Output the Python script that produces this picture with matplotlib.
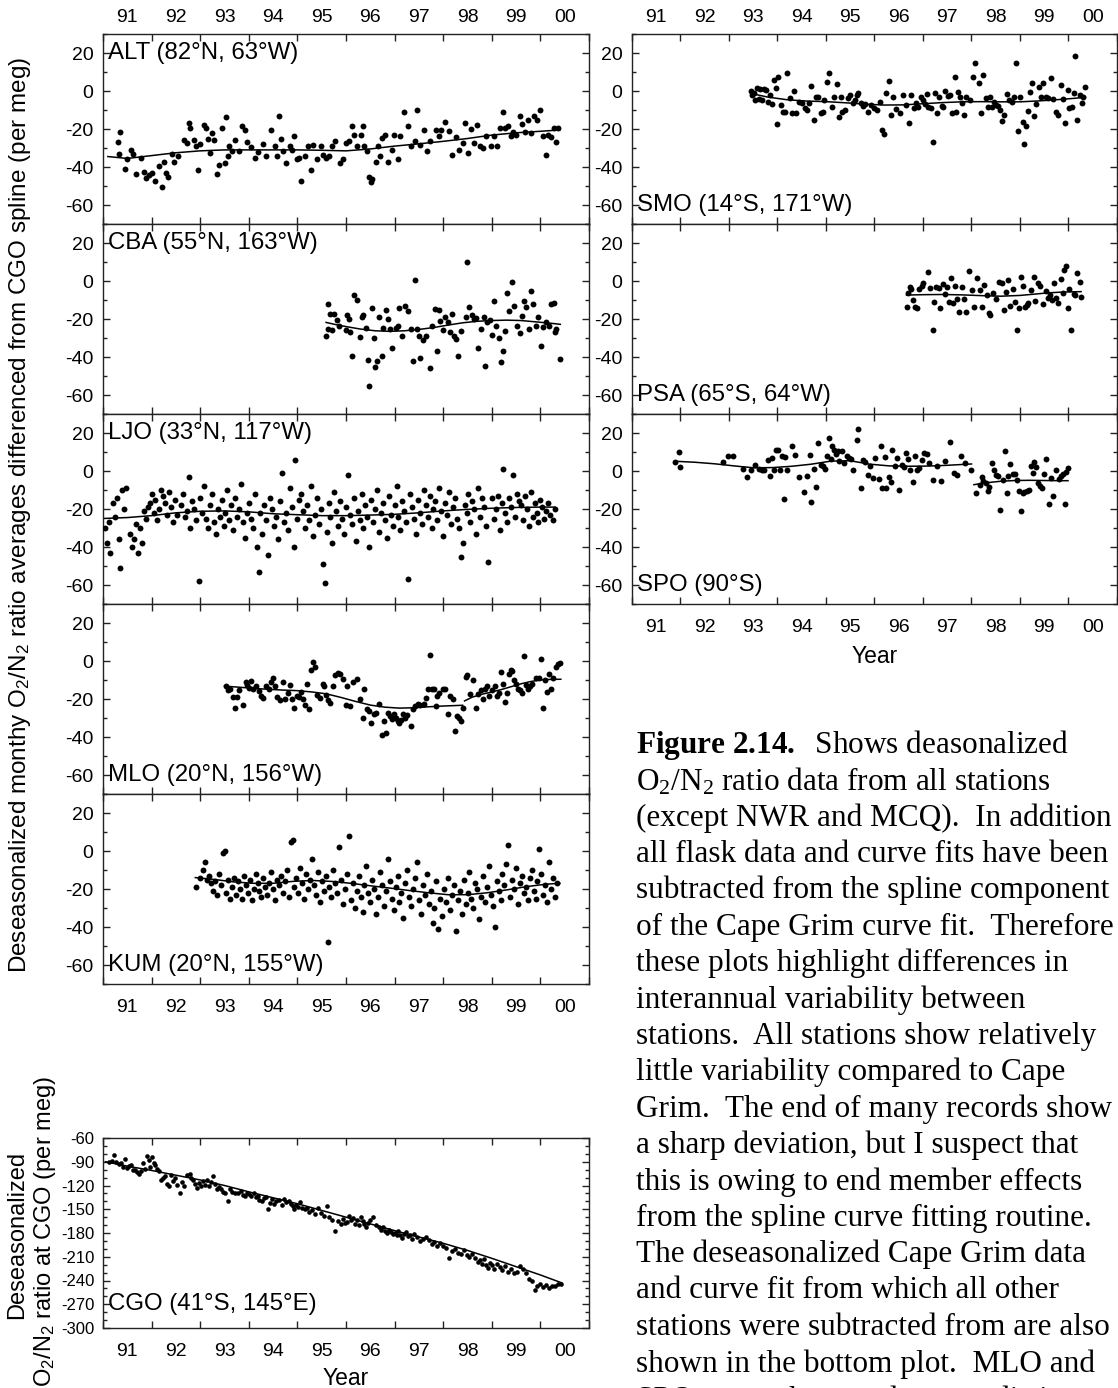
import matplotlib
matplotlib.use("Agg")
import matplotlib.pyplot as plt
from matplotlib.ticker import FixedLocator, FixedFormatter, NullFormatter, MultipleLocator

plt.rcParams['font.family'] = ['Liberation Sans', 'DejaVu Sans']
plt.rcParams['axes.unicode_minus'] = False
plt.rcParams['mathtext.fontset'] = 'custom'
plt.rcParams['mathtext.rm'] = 'Liberation Serif'
plt.rcParams['mathtext.bf'] = 'Liberation Serif:bold'
plt.rcParams['mathtext.it'] = 'Liberation Serif:italic'
plt.rcParams['mathtext.sf'] = 'Liberation Sans'

# ---- data (decimal year, per meg) ----
year_labels = ["91", "92", "93", "94", "95", "96", "97", "98", "99", "00"]

alt_x = [1991.30, 1991.35, 1991.32, 1991.45, 1991.49, 1991.58, 1991.62, 1991.68, 1991.79, 1991.85, 1991.88, 1991.94, 1992.00, 1992.06, 1992.15, 1992.21, 1992.25, 1992.29, 1992.33, 1992.42, 1992.46, 1992.55, 1992.67, 1992.73, 1992.77, 1992.79, 1992.88, 1992.91, 1992.95, 1992.99, 1993.07, 1993.11, 1993.17, 1993.21, 1993.25, 1993.29, 1993.34, 1993.38, 1993.45, 1993.50, 1993.54, 1993.58, 1993.60, 1993.66, 1993.72, 1993.79, 1993.86, 1993.92, 1993.97, 1994.05, 1994.12, 1994.19, 1994.29, 1994.35, 1994.46, 1994.53, 1994.58, 1994.62, 1994.67, 1994.71, 1994.76, 1994.84, 1994.88, 1994.94, 1994.99, 1995.04, 1995.08, 1995.16, 1995.21, 1995.28, 1995.33, 1995.40, 1995.48, 1995.53, 1995.59, 1995.65, 1995.71, 1995.78, 1995.87, 1995.93, 1996.01, 1996.07, 1996.12, 1996.16, 1996.23, 1996.30, 1996.34, 1996.38, 1996.44, 1996.48, 1996.52, 1996.54, 1996.62, 1996.66, 1996.70, 1996.74, 1996.80, 1996.86, 1996.94, 1996.98, 1997.06, 1997.12, 1997.20, 1997.28, 1997.33, 1997.41, 1997.47, 1997.53, 1997.61, 1997.67, 1997.73, 1997.85, 1997.91, 1997.96, 1998.04, 1998.12, 1998.18, 1998.26, 1998.32, 1998.40, 1998.44, 1998.52, 1998.58, 1998.64, 1998.70, 1998.75, 1998.81, 1998.89, 1998.99, 1999.05, 1999.11, 1999.17, 1999.23, 1999.27, 1999.33, 1999.39, 1999.44, 1999.50, 1999.57, 1999.62, 1999.68, 1999.74, 1999.80, 1999.86, 1999.94, 1999.99, 2000.06, 2000.12, 2000.16, 2000.21, 2000.28, 2000.32, 2000.36]
alt_y = [-27, -21.6, -33, -41, -36, -31, -33, -43.5, -35, -42.6, -45.8, -44, -43, -47.5, -39.6, -50.7, -37.5, -43, -45, -33, -37.5, -34, -25.6, -27.4, -16.8, -19.5, -25.6, -29, -41.8, -28, -17.7, -19.5, -25, -32.6, -22, -25.6, -43.5, -39, -19.5, -38, -13.9, -34.4, -29, -31.8, -26, -31.8, -18.2, -20.4, -27, -29.5, -35, -32.3, -27.7, -34, -20.4, -29, -34.4, -13, -25, -31.8, -38, -29.1, -31, -23.9, -36, -35, -47.5, -34.4, -29, -41.4, -28.2, -36, -29, -33.5, -35.3, -34.4, -29.1, -26.5, -37.9, -36, -27.4, -26.5, -18.6, -23, -29, -23, -18.2, -29, -31.8, -45, -48, -46.3, -37.5, -29, -34.4, -24.7, -23, -37.5, -31, -23, -36, -23.9, -11.2, -18.2, -29.1, -26.5, -9.8, -28.2, -20.4, -31.8, -26.5, -20.7, -23.9, -20.4, -16.5, -21.2, -33.5, -24.2, -31, -27.4, -16.8, -32.6, -20, -27.4, -18, -29.1, -30, -23.9, -28.8, -23.9, -28.8, -19.5, -11.2, -19.5, -18.6, -23.9, -21.8, -23, -13.3, -17.2, -21.8, -15.4, -22, -13.3, -15, -9.8, -23.9, -33.5, -23, -24.2, -19.5, -27, -19.5]
alt_cx = [1991.1, 1991.5, 1992.0, 1992.5, 1993.0, 1993.5, 1994.0, 1994.5, 1995.0, 1995.5, 1996.0, 1996.5, 1997.0, 1997.5, 1998.0, 1998.5, 1999.0, 1999.5, 2000.0, 2000.4]
alt_cy = [-34.5, -35.5, -34, -32.5, -31.5, -31, -31, -31, -31, -31.2, -31.5, -30.5, -29, -27.8, -26.5, -25, -23.2, -22, -21.2, -20.5]

cba_x = [1995.59, 1995.62, 1995.63, 1995.67, 1995.71, 1995.75, 1995.82, 1995.85, 1995.99, 1996.03, 1996.07, 1996.09, 1996.12, 1996.17, 1996.23, 1996.29, 1996.33, 1996.36, 1996.41, 1996.45, 1996.48, 1996.53, 1996.57, 1996.60, 1996.64, 1996.68, 1996.74, 1996.76, 1996.83, 1996.86, 1996.90, 1996.94, 1997.02, 1997.06, 1997.10, 1997.15, 1997.21, 1997.27, 1997.33, 1997.37, 1997.41, 1997.47, 1997.51, 1997.53, 1997.59, 1997.65, 1997.73, 1997.77, 1997.83, 1997.87, 1997.91, 1997.94, 1998.00, 1998.04, 1998.10, 1998.15, 1998.18, 1998.22, 1998.26, 1998.30, 1998.36, 1998.46, 1998.49, 1998.54, 1998.60, 1998.64, 1998.68, 1998.71, 1998.78, 1998.83, 1998.86, 1998.91, 1998.97, 1999.01, 1999.05, 1999.09, 1999.15, 1999.19, 1999.23, 1999.27, 1999.31, 1999.36, 1999.42, 1999.46, 1999.52, 1999.57, 1999.62, 1999.66, 1999.70, 1999.76, 1999.80, 1999.84, 1999.90, 1999.96, 2000.02, 2000.06, 2000.12, 2000.18, 2000.22, 2000.28, 2000.31, 2000.33, 2000.41]
cba_y = [-28.8, -25.3, -11.9, -17.2, -25.6, -17.2, -20.4, -23.5, -25.6, -17.7, -20, -27, -39.3, -7.2, -9.8, -29.5, -18.9, -17.7, -24.9, -41.4, -55.4, -14.2, -30, -45.3, -42.3, -18.9, -39.3, -24.7, -15.1, -20, -25.3, -35.3, -24.7, -23.9, -14.2, -28.8, -13, -16, -25.3, -42.3, 0.3, -25.3, -29.1, -40.5, -30.9, -29.1, -45.8, -23.9, -14.7, -37, -15.4, -21.2, -26, -18.9, -21.8, -27, -17.2, -28.8, -30.5, -39.3, -26.5, -18.9, 10.2, -13.7, -17.7, -20, -19.5, -35.3, -25.3, -18.9, -44.9, -21.8, -20.4, -28.3, -10.7, -23.5, -30, -42.8, -37, -26.5, -6.3, -16, -0.7, -13, -23.9, -27.4, -18.2, -10.7, -13.7, -25.3, -5.1, -11.9, -23.9, -18.9, -34.4, -24.2, -21.8, -23.9, -11.9, -11.6, -26.7, -25.3, -41]
cba_cx = [1995.59, 1995.8, 1996.0, 1996.3, 1996.6, 1996.9, 1997.2, 1997.5, 1997.8, 1998.1, 1998.4, 1998.7, 1999.0, 1999.3, 1999.6, 1999.9, 2000.2, 2000.41]
cba_cy = [-21.8, -23, -24, -25.3, -26.2, -26.5, -26.2, -25.5, -24.5, -23.2, -22, -21.2, -20.8, -20.6, -20.8, -21.5, -22.2, -22.8]

ljo_x = [1991.05, 1991.08, 1991.12, 1991.15, 1991.20, 1991.24, 1991.28, 1991.32, 1991.36, 1991.40, 1991.44, 1991.48, 1991.55, 1991.60, 1991.63, 1991.68, 1991.72, 1991.76, 1991.80, 1991.85, 1991.88, 1991.92, 1991.96, 1992.00, 1992.04, 1992.08, 1992.12, 1992.16, 1992.20, 1992.24, 1992.28, 1992.32, 1992.36, 1992.40, 1992.44, 1992.48, 1992.52, 1992.60, 1992.64, 1992.68, 1992.72, 1992.76, 1992.80, 1992.84, 1992.88, 1992.92, 1992.97, 1993.00, 1993.04, 1993.08, 1993.12, 1993.16, 1993.20, 1993.24, 1993.28, 1993.32, 1993.36, 1993.40, 1993.44, 1993.48, 1993.52, 1993.56, 1993.60, 1993.64, 1993.68, 1993.72, 1993.76, 1993.80, 1993.84, 1993.88, 1993.92, 1993.96, 1994.00, 1994.04, 1994.08, 1994.12, 1994.16, 1994.20, 1994.24, 1994.28, 1994.32, 1994.36, 1994.40, 1994.44, 1994.48, 1994.52, 1994.56, 1994.60, 1994.64, 1994.68, 1994.72, 1994.76, 1994.80, 1994.84, 1994.88, 1994.92, 1994.96, 1995.00, 1995.04, 1995.08, 1995.12, 1995.16, 1995.20, 1995.24, 1995.28, 1995.32, 1995.36, 1995.40, 1995.44, 1995.48, 1995.52, 1995.56, 1995.60, 1995.64, 1995.68, 1995.72, 1995.76, 1995.80, 1995.84, 1995.88, 1995.92, 1995.96, 1996.00, 1996.04, 1996.08, 1996.12, 1996.16, 1996.20, 1996.24, 1996.28, 1996.32, 1996.36, 1996.40, 1996.44, 1996.48, 1996.52, 1996.56, 1996.60, 1996.64, 1996.68, 1996.72, 1996.76, 1996.80, 1996.84, 1996.88, 1996.92, 1996.96, 1997.00, 1997.04, 1997.08, 1997.12, 1997.16, 1997.20, 1997.24, 1997.28, 1997.32, 1997.36, 1997.40, 1997.44, 1997.48, 1997.52, 1997.56, 1997.60, 1997.64, 1997.68, 1997.72, 1997.76, 1997.80, 1997.84, 1997.88, 1997.92, 1997.96, 1998.00, 1998.04, 1998.08, 1998.12, 1998.16, 1998.20, 1998.24, 1998.28, 1998.32, 1998.36, 1998.40, 1998.44, 1998.48, 1998.52, 1998.56, 1998.60, 1998.64, 1998.68, 1998.72, 1998.76, 1998.80, 1998.84, 1998.88, 1998.92, 1999.00, 1999.04, 1999.08, 1999.12, 1999.16, 1999.20, 1999.24, 1999.28, 1999.32, 1999.36, 1999.40, 1999.44, 1999.48, 1999.52, 1999.56, 1999.60, 1999.64, 1999.68, 1999.72, 1999.76, 1999.80, 1999.84, 1999.88, 1999.92, 1999.96, 2000.00, 2000.04, 2000.08, 2000.12, 2000.16, 2000.20, 2000.25, 2000.30]
ljo_y = [-30, -38, -27, -43, -17, -24, -14, -36, -51, -10, -20, -9, -33, -40, -36, -28, -43, -30, -38, -21, -25, -19, -17, -12, -22, -15, -26, -20, -10, -13, -17, -23, -11, -19, -27, -15, -23, -18, -12, -24, -21, -3, -30, -16, -20, -26, -58, -14, -22, -8, -25, -30, -18, -12, -27, -33, -20, -24, -15, -29, -22, -10, -26, -18, -31, -14, -24, -20, -7, -27, -35, -22, -17, -25, -30, -12, -40, -53, -22, -33, -18, -26, -44, -14, -20, -29, -24, -36, -16, -1, -27, -22, -31, -9, -19, -40, 6, -25, -15, -12, -21, -30, -18, -26, -8, -34, -23, -14, -28, -20, -49, -59, -32, -17, -24, -38, -11, -21, -29, -16, -25, -33, -19, -2, -23, -28, -14, -37, -21, -26, -12, -30, -18, -24, -40, -15, -27, -20, -10, -32, -22, -17, -26, -35, -13, -23, -29, -18, -8, -24, -31, -16, -21, -27, -57, -12, -19, -25, -33, -15, -22, -28, -10, -18, -24, -13, -30, -20, -16, -26, -9, -21, -34, -17, -23, -11, -28, -19, -14, -25, -30, -45, -38, -18, -22, -12, -27, -16, -20, -33, -9, -24, -14, -19, -29, -48, -14, -25, -20, -13, -31, -17, 1, -22, -27, -14, -19, -2, -24, -12, -16, -18, -26, -13, -20, -29, -11, -24, -17, -22, -27, -15, -19, -25, -21, -17, -23, -26, -20]
ljo_cx = [1991.0, 1991.5, 1992.0, 1992.5, 1993.0, 1993.5, 1994.0, 1994.5, 1995.0, 1995.5, 1996.0, 1996.5, 1997.0, 1997.5, 1998.0, 1998.5, 1999.0, 1999.5, 2000.0, 2000.3]
ljo_cy = [-25, -24.5, -23.5, -22, -21.2, -21, -21.5, -22.5, -23, -23.5, -23.5, -23.2, -22.8, -22, -21, -20.2, -19.6, -19.2, -19, -19]

mlo_x = [1993.54, 1993.58, 1993.62, 1993.67, 1993.72, 1993.75, 1993.80, 1993.88, 1993.94, 1993.97, 1994.01, 1994.05, 1994.09, 1994.15, 1994.20, 1994.25, 1994.29, 1994.35, 1994.41, 1994.46, 1994.50, 1994.54, 1994.59, 1994.65, 1994.70, 1994.75, 1994.80, 1994.84, 1994.88, 1994.92, 1994.99, 1995.04, 1995.08, 1995.12, 1995.16, 1995.20, 1995.24, 1995.28, 1995.32, 1995.36, 1995.40, 1995.46, 1995.52, 1995.55, 1995.59, 1995.63, 1995.67, 1995.73, 1995.78, 1995.83, 1995.87, 1995.93, 1995.99, 1996.03, 1996.09, 1996.15, 1996.23, 1996.28, 1996.34, 1996.38, 1996.44, 1996.48, 1996.52, 1996.57, 1996.62, 1996.68, 1996.74, 1996.78, 1996.82, 1996.86, 1996.90, 1996.94, 1996.98, 1997.02, 1997.06, 1997.09, 1997.13, 1997.17, 1997.21, 1997.25, 1997.33, 1997.37, 1997.43, 1997.49, 1997.53, 1997.61, 1997.65, 1997.69, 1997.73, 1997.77, 1997.81, 1997.85, 1997.88, 1997.92, 1997.99, 1998.04, 1998.10, 1998.15, 1998.20, 1998.24, 1998.28, 1998.32, 1998.36, 1998.40, 1998.46, 1998.49, 1998.56, 1998.62, 1998.67, 1998.71, 1998.78, 1998.81, 1998.86, 1998.91, 1998.95, 1999.01, 1999.07, 1999.11, 1999.15, 1999.19, 1999.23, 1999.27, 1999.31, 1999.35, 1999.39, 1999.42, 1999.46, 1999.50, 1999.54, 1999.58, 1999.62, 1999.66, 1999.70, 1999.74, 1999.78, 1999.82, 1999.90, 1999.98, 2000.02, 2000.06, 2000.10, 2000.14, 2000.18, 2000.21, 2000.25, 2000.33, 2000.37, 2000.41]
mlo_y = [-13.4, -15.2, -14.5, -18.7, -24.5, -18.7, -15.2, -23.3, -11.3, -12.7, -14.0, -10.5, -14.5, -13.4, -15.7, -18.4, -19.3, -13.4, -14.9, -11.3, -9.0, -13.4, -18.7, -20.5, -11.3, -20.1, -16.6, -12.7, -20.1, -24.5, -18.4, -18.7, -16.3, -20.1, -23.3, -12.2, -25.4, -4.6, -0.4, -3.4, -18.0, -19.3, -12.2, -13.4, -18.0, -20.5, -22.3, -13.4, -7.5, -6.1, -6.9, -9.6, -23.3, -13.4, -23.7, -11.3, -9.6, -20.1, -29.8, -14.5, -25.4, -26.3, -32.5, -28.1, -27.2, -22.8, -39.2, -31.6, -38.1, -27.2, -28.9, -30.7, -28.1, -29.8, -31.6, -32.5, -31.1, -28.1, -29.8, -28.6, -34.2, -25.4, -23.7, -22.8, -23.3, -22.8, -19.3, -14.5, 3.1, -14.9, -14.5, -23.7, -18.4, -16.6, -14.9, -14.5, -28.1, -18.4, -20.1, -36.9, -28.9, -29.8, -31.6, -24.5, -8.2, -7.5, -17.5, -9.9, -24.5, -17.5, -15.2, -20.1, -14.5, -13.4, -18.4, -15.2, -13.4, -18.4, -17.0, -5.7, -12.2, -21.5, -17.0, -6.9, -4.6, -5.2, -9.9, -12.2, -14.9, -15.2, -17.0, 2.4, -12.7, -14.5, -13.4, -12.2, -8.7, -9.2, 1.0, -24.5, -9.9, -16.3, -6.9, -14.5, -9.2, -2.9, -1.7, -1.1]
mlo_cx1 = [1993.50, 1993.8, 1994.1, 1994.4, 1994.7, 1995.0, 1995.3, 1995.6, 1995.9, 1996.2, 1996.5, 1996.8, 1997.1, 1997.4, 1997.7, 1998.0, 1998.4]
mlo_cy1 = [-13.2, -13.8, -14.4, -14.9, -15.3, -15.6, -16.3, -17.3, -19.2, -21.3, -23.2, -24.3, -24.8, -24.6, -24.1, -23.7, -23.3]
mlo_cx2 = [1998.44, 1998.6, 1998.8, 1999.0, 1999.2, 1999.4, 1999.6, 1999.8, 2000.0, 2000.2, 2000.42]
mlo_cy2 = [-21, -19, -17.5, -16.3, -15, -13.5, -12, -10.8, -10, -9.7, -9.6]

kum_x = [1992.92, 1993.00, 1993.05, 1993.10, 1993.14, 1993.18, 1993.22, 1993.26, 1993.30, 1993.34, 1993.38, 1993.42, 1993.46, 1993.50, 1993.54, 1993.58, 1993.62, 1993.66, 1993.70, 1993.74, 1993.78, 1993.82, 1993.86, 1993.90, 1993.94, 1993.98, 1994.02, 1994.06, 1994.10, 1994.14, 1994.18, 1994.22, 1994.26, 1994.30, 1994.34, 1994.38, 1994.42, 1994.46, 1994.50, 1994.54, 1994.58, 1994.62, 1994.66, 1994.70, 1994.74, 1994.78, 1994.82, 1994.86, 1994.90, 1994.94, 1994.98, 1995.02, 1995.06, 1995.10, 1995.14, 1995.18, 1995.22, 1995.26, 1995.30, 1995.34, 1995.38, 1995.42, 1995.46, 1995.50, 1995.54, 1995.58, 1995.62, 1995.66, 1995.70, 1995.74, 1995.78, 1995.82, 1995.86, 1995.90, 1995.94, 1995.98, 1996.02, 1996.06, 1996.10, 1996.14, 1996.18, 1996.22, 1996.26, 1996.30, 1996.34, 1996.38, 1996.42, 1996.46, 1996.50, 1996.54, 1996.58, 1996.62, 1996.66, 1996.70, 1996.74, 1996.78, 1996.82, 1996.86, 1996.90, 1996.94, 1996.98, 1997.02, 1997.06, 1997.10, 1997.14, 1997.18, 1997.22, 1997.26, 1997.30, 1997.34, 1997.38, 1997.42, 1997.46, 1997.50, 1997.54, 1997.58, 1997.62, 1997.66, 1997.70, 1997.74, 1997.78, 1997.82, 1997.86, 1997.90, 1997.94, 1997.98, 1998.02, 1998.06, 1998.10, 1998.14, 1998.18, 1998.22, 1998.26, 1998.30, 1998.34, 1998.38, 1998.42, 1998.46, 1998.50, 1998.54, 1998.58, 1998.62, 1998.66, 1998.70, 1998.74, 1998.78, 1998.82, 1998.86, 1998.90, 1998.94, 1998.98, 1999.02, 1999.06, 1999.10, 1999.14, 1999.18, 1999.22, 1999.26, 1999.30, 1999.34, 1999.38, 1999.42, 1999.46, 1999.50, 1999.54, 1999.58, 1999.62, 1999.66, 1999.70, 1999.74, 1999.78, 1999.82, 1999.86, 1999.90, 1999.94, 1999.98, 2000.02, 2000.06, 2000.10, 2000.14, 2000.18, 2000.22, 2000.26, 2000.30, 2000.35]
kum_y = [-19, -14, -10, -6, -15, -13, -17, -21, -16, -23, -12, -18, -1, 0, -22, -15, -25, -19, -14, -23, -16, -20, -25, -13, -18, -22, -15, -26, -20, -12, -17, -21, -24, -14, -19, -23, -17, -11, -20, -26, -15, -18, -13, -22, -16, -10, -24, 5, 6, -19, -14, -22, -9, -17, -25, -12, -20, -15, -4, -18, -23, -11, -27, -16, -21, -13, -48, -19, -24, -10, -17, -22, 2, -15, -28, -20, -12, 8, -26, -17, -30, -21, -13, -24, -32, -18, -8, -22, -27, -15, -20, -33, -24, -11, -18, -29, -21, -4, -16, -25, -31, -19, -13, -27, -22, -35, -17, -10, -24, -29, -20, -14, -6, -26, -33, -18, -23, -12, -28, -21, -38, -30, -16, -41, -25, -34, -20, -27, -14, -31, -23, -18, -42, -26, -21, -33, -15, -28, -22, -11, -25, -30, -17, -20, -36, -24, -13, -27, -19, -8, -23, -29, -40, -16, -21, -26, -12, -18, -7, 3, -24, -15, -20, -9, -28, -17, -13, -22, -19, -26, -14, -10, -21, -25, -16, 1, -12, -23, -18, -27, -6, -20, -14, -24, -17]
kum_cx = [1992.9, 1993.3, 1993.7, 1994.1, 1994.5, 1994.9, 1995.3, 1995.7, 1996.1, 1996.5, 1996.9, 1997.3, 1997.7, 1998.1, 1998.5, 1998.9, 1999.3, 1999.7, 2000.1, 2000.4]
kum_cy = [-14, -15, -16.3, -17, -17, -16, -15.5, -16, -17, -18.3, -19.5, -20.8, -22, -23, -23, -22, -20.5, -18.8, -17.5, -17]

smo_x = [1993.46, 1993.48, 1993.51, 1993.54, 1993.57, 1993.61, 1993.64, 1993.68, 1993.73, 1993.76, 1993.80, 1993.85, 1993.89, 1993.92, 1993.96, 1993.99, 1994.02, 1994.07, 1994.12, 1994.15, 1994.20, 1994.25, 1994.29, 1994.34, 1994.39, 1994.44, 1994.50, 1994.57, 1994.60, 1994.65, 1994.70, 1994.75, 1994.80, 1994.84, 1994.89, 1994.93, 1994.96, 1995.02, 1995.07, 1995.12, 1995.17, 1995.22, 1995.26, 1995.31, 1995.34, 1995.40, 1995.45, 1995.50, 1995.55, 1995.59, 1995.63, 1995.67, 1995.72, 1995.77, 1995.81, 1995.86, 1995.93, 1996.00, 1996.06, 1996.11, 1996.15, 1996.19, 1996.24, 1996.29, 1996.33, 1996.38, 1996.45, 1996.52, 1996.59, 1996.65, 1996.72, 1996.76, 1996.81, 1996.85, 1996.90, 1996.95, 1996.99, 1997.04, 1997.08, 1997.11, 1997.16, 1997.20, 1997.25, 1997.28, 1997.34, 1997.39, 1997.42, 1997.46, 1997.51, 1997.56, 1997.60, 1997.65, 1997.69, 1997.72, 1997.76, 1997.80, 1997.85, 1997.89, 1997.96, 1998.03, 1998.08, 1998.15, 1998.19, 1998.24, 1998.29, 1998.34, 1998.38, 1998.43, 1998.46, 1998.50, 1998.55, 1998.59, 1998.62, 1998.67, 1998.73, 1998.78, 1998.83, 1998.87, 1998.91, 1998.96, 1999.01, 1999.06, 1999.09, 1999.13, 1999.16, 1999.21, 1999.25, 1999.28, 1999.34, 1999.40, 1999.43, 1999.48, 1999.53, 1999.58, 1999.64, 1999.68, 1999.74, 1999.78, 1999.84, 1999.89, 1999.93, 1999.98, 2000.02, 2000.07, 2000.11, 2000.14, 2000.18, 2000.23, 2000.27, 2000.30, 2000.34]
smo_y = [0.2, -2, -1.2, -4.8, 1.4, -4.4, 0.9, -4.8, 0.9, 0.5, -5.6, -2.1, -6.9, 5.8, 1.4, -17.4, 7.6, -7.4, -10.9, -10.9, 9.3, -3.9, -11.4, 0.2, -11.4, -5.6, -6.2, -9.2, -10, -6.2, 2.6, -15.3, -3, -3, -11.8, -10.9, -4.8, 4.9, 9.3, -8.6, -3.3, 3.7, -13.6, -3, -10.9, -10, -3.9, -2.1, -6.2, -4.8, -2.1, -1.2, -6.5, -7.9, -6.9, -10.9, -7.4, -9.2, -10, -5.6, -20.6, -22.4, -0.9, 5.5, -12.7, -3, -9.7, -11.8, -2.1, -7.4, -17.1, -2.1, -9.2, -6.5, -8.3, -3.3, -4.8, -6.9, -1.6, -8.3, -9.2, -26.8, -0.9, -11.8, -3.3, -7.9, -8.3, 0.2, -2.6, -2.1, -11.4, 7.2, -10.9, -0.4, -3, -6.5, -12.7, -3, -4.8, 7.2, 15, 4.4, -11.8, 8.5, -3.9, -8.3, -3, -8.6, -5.6, -7.4, -7.9, -10, -15.7, -12.7, -1.6, -4.8, -5.6, -3.3, 14.6, -21, -3.3, -16.2, -28, -18.5, -10.4, -0.4, 4.4, -13.2, -6.9, 1.9, -3.3, 4.4, -3, -3.9, 6.7, -4.4, -10.9, -12.7, 3.2, -4.4, -16.7, 0.5, -9.2, -8.6, -1.2, 18.6, -15.3, -2.1, -6.2, -3, 1.9]
smo_cx = [1993.45, 1993.8, 1994.2, 1994.6, 1995.0, 1995.4, 1995.8, 1996.2, 1996.6, 1997.0, 1997.4, 1997.8, 1998.2, 1998.6, 1999.0, 1999.4, 1999.8, 2000.1, 2000.35]
smo_cy = [-1.3, -3.2, -4.6, -5.3, -5.6, -6.2, -6.9, -7.4, -7.3, -6.7, -6.1, -5.7, -5.6, -5.7, -5.7, -5.2, -4.5, -3.9, -3.3]

psa_x = [1996.67, 1996.69, 1996.73, 1996.76, 1996.80, 1996.83, 1996.88, 1996.92, 1996.97, 1997.01, 1997.10, 1997.14, 1997.20, 1997.22, 1997.27, 1997.32, 1997.35, 1997.41, 1997.46, 1997.49, 1997.53, 1997.58, 1997.62, 1997.65, 1997.70, 1997.74, 1997.80, 1997.84, 1997.89, 1997.94, 1998.01, 1998.05, 1998.12, 1998.17, 1998.22, 1998.26, 1998.31, 1998.36, 1998.39, 1998.44, 1998.50, 1998.57, 1998.62, 1998.66, 1998.71, 1998.76, 1998.80, 1998.85, 1998.89, 1998.93, 1998.98, 1999.02, 1999.07, 1999.10, 1999.14, 1999.17, 1999.22, 1999.28, 1999.31, 1999.37, 1999.42, 1999.47, 1999.53, 1999.57, 1999.62, 1999.65, 1999.71, 1999.75, 1999.79, 1999.84, 1999.89, 1999.91, 1999.94, 1999.98, 2000.02, 2000.06, 2000.11, 2000.14, 2000.18, 2000.23, 2000.26]
psa_y = [-13.9, -6.2, -3.3, -4.4, -10, -13.9, -14.4, -4.4, -2.6, -0.9, 4.9, -3.9, -25.9, -10.9, -3, -3.9, -14.4, -1.6, -6.9, -3, -10.9, 1.4, -11.8, -2.6, -9.7, -16.2, -3, -9.7, -16.2, 5.5, -4.8, -13.6, 1.4, -4.8, -13.6, -2.1, -7.4, -17.1, -18, -6.5, -9.7, -0.4, -0.9, -15.3, -5.6, 0.5, -13.2, -4.4, -10.9, -25.9, -14.4, 1.9, -2.6, -13.6, -12.7, -11.8, -4.8, 1.9, -10.4, -0.9, -2.6, -12.1, -5.1, -9.2, -7.4, -10, -0.9, -9.2, -11.4, 0.9, -6.5, 5.8, 7.9, -14.4, -4.4, -25.9, -6.9, -7.4, 4.0, -0.4, -8.3]
psa_cx = [1996.66, 1997.0, 1997.4, 1997.8, 1998.2, 1998.6, 1999.0, 1999.3, 1999.6, 1999.9, 2000.26]
psa_cy = [-7.4, -7.2, -7.1, -7.3, -7.7, -8, -7.6, -6.9, -6.2, -5.8, -5.6]

spo_x = [1991.88, 1991.96, 1992.00, 1992.88, 1992.97, 1993.09, 1993.28, 1993.38, 1993.46, 1993.54, 1993.61, 1993.68, 1993.73, 1993.80, 1993.84, 1993.89, 1993.92, 1993.96, 1994.01, 1994.06, 1994.09, 1994.13, 1994.16, 1994.20, 1994.29, 1994.37, 1994.45, 1994.55, 1994.61, 1994.68, 1994.70, 1994.75, 1994.80, 1994.84, 1994.89, 1994.93, 1994.98, 1995.03, 1995.07, 1995.10, 1995.13, 1995.17, 1995.20, 1995.24, 1995.27, 1995.33, 1995.38, 1995.43, 1995.47, 1995.52, 1995.56, 1995.63, 1995.67, 1995.72, 1995.76, 1995.81, 1995.86, 1995.91, 1995.96, 1996.01, 1996.09, 1996.14, 1996.16, 1996.21, 1996.24, 1996.30, 1996.33, 1996.37, 1996.42, 1996.47, 1996.51, 1996.56, 1996.60, 1996.65, 1996.69, 1996.74, 1996.79, 1996.83, 1996.87, 1996.92, 1996.97, 1997.02, 1997.08, 1997.13, 1997.20, 1997.28, 1997.37, 1997.46, 1997.55, 1997.63, 1997.71, 1997.79, 1997.87, 1998.00, 1998.10, 1998.17, 1998.21, 1998.24, 1998.29, 1998.33, 1998.36, 1998.43, 1998.46, 1998.50, 1998.55, 1998.59, 1998.64, 1998.69, 1998.73, 1998.76, 1998.80, 1998.85, 1998.89, 1998.94, 1998.98, 1999.02, 1999.06, 1999.09, 1999.14, 1999.19, 1999.22, 1999.26, 1999.29, 1999.33, 1999.38, 1999.42, 1999.45, 1999.50, 1999.54, 1999.59, 1999.63, 1999.68, 1999.75, 1999.80, 1999.84, 1999.89, 1999.92, 1999.94, 1999.98]
spo_y = [4.6, 10.2, 2.1, 4.6, 8.1, 7.7, 1.1, -3.3, 0.7, 3.3, 1.1, 0.7, 0.4, 6, -2.5, 6.8, 0.7, 11.2, 11.2, 0.4, 8.1, -14.7, 7.4, 0.7, 13.3, 8.6, -3.2, -11.2, -2.5, 8.6, -16.5, 1.1, -8.4, 14.7, 3.3, 2.5, 1.1, 7.7, 17.4, 6.3, 13, 11.2, 9.1, 10.4, 5.1, 10.4, 4.2, 8.1, 6.8, 6.3, 0.4, 16.1, 22.1, -8.9, 5.6, 4.6, -1.9, 2.5, -3.7, 6.8, -4.2, 13, -8.9, 7.4, -8.9, -3.2, -6, 10.9, 2.5, 6.8, -9.8, 3.3, 2.1, 9.5, 6.3, 0.4, -6, 8.1, 0.4, 1.6, 6, 9.5, 9.1, 4.2, -4.6, 2.5, -5.4, 5.1, 15.4, -1.1, -1.9, 8.1, 4.2, 0.4, -11.6, -7.2, -3.2, -5.4, -6.3, -10.7, -8.4, 4.2, 0.4, -1.9, -2.5, -20.4, -4.9, 10.4, -11.6, -2.5, 3.7, -1.4, -1.4, -4.9, -10.7, -21.2, -11.6, -11.2, -10.7, -10.2, 2.8, -1.1, 4.6, 2.1, -6.3, -7.7, -8.9, -1.4, 6.3, -17.2, -3.7, -13, 0.4, -4.2, -2.8, -1.4, -17.2, -0.7, 1.6]
spo_cx1 = [1991.91, 1992.3, 1992.7, 1993.1, 1993.5, 1993.9, 1994.3, 1994.7, 1995.1, 1995.5, 1995.9, 1996.3, 1996.7, 1997.1, 1997.5, 1998.0]
spo_cy1 = [5.1, 4.6, 3.8, 2.7, 1.7, 1.8, 2.5, 3.6, 5.2, 5.4, 3.6, 2.7, 2.5, 2.6, 3, 3.7]
spo_cx2 = [1998.05, 1998.3, 1998.6, 1998.9, 1999.2, 1999.5, 1999.8, 1999.99]
spo_cy2 = [-7.2, -6.2, -5.4, -5, -4.9, -5, -5.1, -5.1]

cgo_x = [1991.12, 1991.18, 1991.22, 1991.26, 1991.32, 1991.38, 1991.42, 1991.46, 1991.50, 1991.54, 1991.58, 1991.62, 1991.66, 1991.70, 1991.74, 1991.78, 1991.82, 1991.86, 1991.90, 1991.94, 1991.97, 1992.00, 1992.04, 1992.08, 1992.12, 1992.16, 1992.20, 1992.24, 1992.28, 1992.32, 1992.36, 1992.40, 1992.44, 1992.48, 1992.52, 1992.58, 1992.62, 1992.66, 1992.72, 1992.78, 1992.82, 1992.86, 1992.90, 1992.94, 1992.98, 1993.02, 1993.06, 1993.10, 1993.14, 1993.18, 1993.22, 1993.26, 1993.30, 1993.34, 1993.38, 1993.42, 1993.46, 1993.52, 1993.58, 1993.62, 1993.66, 1993.72, 1993.78, 1993.84, 1993.88, 1993.92, 1993.96, 1994.00, 1994.05, 1994.10, 1994.14, 1994.18, 1994.22, 1994.28, 1994.32, 1994.36, 1994.40, 1994.44, 1994.48, 1994.52, 1994.56, 1994.62, 1994.68, 1994.72, 1994.76, 1994.82, 1994.86, 1994.90, 1994.94, 1994.98, 1995.02, 1995.06, 1995.10, 1995.15, 1995.20, 1995.24, 1995.30, 1995.36, 1995.42, 1995.48, 1995.54, 1995.60, 1995.66, 1995.72, 1995.78, 1995.84, 1995.90, 1995.94, 1995.98, 1996.02, 1996.06, 1996.10, 1996.14, 1996.18, 1996.22, 1996.26, 1996.30, 1996.34, 1996.38, 1996.42, 1996.46, 1996.50, 1996.56, 1996.62, 1996.68, 1996.72, 1996.76, 1996.80, 1996.84, 1996.88, 1996.92, 1996.96, 1997.00, 1997.04, 1997.08, 1997.12, 1997.16, 1997.20, 1997.24, 1997.28, 1997.32, 1997.36, 1997.40, 1997.46, 1997.52, 1997.58, 1997.64, 1997.70, 1997.76, 1997.82, 1997.88, 1997.94, 1998.00, 1998.06, 1998.12, 1998.18, 1998.24, 1998.30, 1998.36, 1998.42, 1998.48, 1998.54, 1998.60, 1998.66, 1998.72, 1998.76, 1998.80, 1998.84, 1998.88, 1998.92, 1998.96, 1999.00, 1999.05, 1999.10, 1999.16, 1999.22, 1999.28, 1999.34, 1999.40, 1999.46, 1999.52, 1999.58, 1999.64, 1999.70, 1999.76, 1999.82, 1999.88, 1999.94, 2000.00, 2000.06, 2000.12, 2000.18, 2000.24, 2000.30, 2000.36, 2000.42]
cgo_y = [-90, -89, -82, -90, -93, -91, -96, -87, -98, -95, -94, -100, -101, -103, -105, -102, -92, -99, -83, -88, -96, -84, -91, -94, -99, -102, -113, -110, -108, -118, -121, -107, -114, -111, -119, -129, -116, -120, -107, -105, -110, -113, -118, -123, -117, -120, -114, -119, -113, -121, -116, -108, -118, -124, -122, -125, -128, -130, -140, -125, -128, -130, -129, -127, -132, -133, -129, -131, -133, -129, -135, -133, -138, -140, -136, -134, -150, -142, -137, -143, -139, -138, -144, -137, -141, -140, -143, -146, -150, -144, -147, -141, -149, -150, -148, -153, -151, -156, -149, -155, -158, -146, -160, -163, -177, -165, -168, -162, -167, -166, -158, -163, -161, -168, -164, -170, -160, -165, -169, -172, -167, -163, -160, -170, -173, -176, -172, -177, -180, -176, -179, -181, -180, -183, -178, -182, -186, -181, -179, -184, -182, -188, -181, -185, -190, -187, -185, -189, -194, -191, -196, -193, -196, -199, -211, -203, -200, -205, -207, -201, -208, -210, -207, -212, -216, -214, -219, -213, -221, -224, -218, -221, -226, -219, -223, -227, -222, -229, -226, -231, -229, -222, -225, -231, -238, -241, -252, -247, -244, -248, -246, -249, -247, -247, -245, -244]
cgo_cx = [1991.05, 1991.5, 1992.0, 1992.5, 1993.0, 1993.5, 1994.0, 1994.5, 1995.0, 1995.5, 1996.0, 1996.5, 1997.0, 1997.5, 1998.0, 1998.5, 1999.0, 1999.5, 2000.0, 2000.44]
cgo_cy = [-90, -95.5, -101, -107, -113, -120, -128, -135.5, -143, -151.5, -160, -168.5, -177, -185, -193, -202, -212, -222.5, -233, -243]

caption_lines = [
    r"$\mathbf{Figure\ 2.14.}$  Shows deasonalized",
    r"$\mathrm{O_2/N_2}$ ratio data from all stations",
    "(except NWR and MCQ).  In addition",
    "all flask data and curve fits have been",
    "subtracted from the spline component",
    "of the Cape Grim curve fit.  Therefore",
    "these plots highlight differences in",
    "interannual variability between",
    "stations.  All stations show relatively",
    "little variability compared to Cape",
    "Grim.  The end of many records show",
    "a sharp deviation, but I suspect that",
    "this is owing to end member effects",
    "from the spline curve fitting routine.",
    "The deseasonalized Cape Grim data",
    "and curve fit from which all other",
    "stations were subtracted from are also",
    "shown in the bottom plot.  MLO and",
    "SPO are each treated as two distinct",
]

# ---- figure ----
W, H = 1118, 1388
fig = plt.figure(figsize=(W / 100, H / 100), dpi=100)
INK = '#222222'


def px_axes(x0, y0, w, h):
    return fig.add_axes([x0 / W, 1 - (y0 + h) / H, w / W, h / H])


def style(ax, top_labels=False, bottom_labels=False, ylim=(-70, 30), ymaj=20, ymin=10,
          ysize=14, ypad=7):
    ax.set_xlim(1991, 2001)
    ax.set_ylim(*ylim)
    ax.xaxis.set_major_locator(FixedLocator(list(range(1991, 2002))))
    ax.xaxis.set_major_formatter(NullFormatter())
    ax.xaxis.set_minor_locator(FixedLocator([1991.5 + i for i in range(10)]))
    ax.xaxis.set_minor_formatter(FixedFormatter(year_labels))
    ax.yaxis.set_major_locator(MultipleLocator(ymaj))
    ax.yaxis.set_minor_locator(MultipleLocator(ymin))
    ax.tick_params(axis='x', which='major', direction='in', length=5, width=1,
                   top=True, bottom=True, color=INK)
    ax.tick_params(axis='x', which='minor', length=0, labelsize=14,
                   pad=(6 if top_labels else 11),
                   top=True, labeltop=top_labels, labelbottom=bottom_labels)
    ax.tick_params(axis='y', which='major', direction='in', length=5, width=1,
                   left=True, right=True, labelsize=ysize, pad=ypad, color=INK)
    ax.tick_params(axis='y', which='minor', direction='in', length=3, width=1,
                   left=True, right=True, color=INK)
    for sp in ax.spines.values():
        sp.set_linewidth(1.0)
        sp.set_color(INK)


def station(ax, xs, ys, curves, label, ly, top_labels=False, bottom_labels=False):
    ax.scatter(xs, ys, s=18, c='black', linewidths=0, zorder=3)
    for cx, cy in curves:
        ax.plot(cx, cy, color='black', lw=1.1, zorder=2)
    ax.text(1991.1, ly, label, fontsize=17.3, va='center', ha='left')
    style(ax, top_labels, bottom_labels)


left = [
    (alt_x, alt_y, [(alt_cx, alt_cy)], "ALT (82°N, 63°W)", 20),
    (cba_x, cba_y, [(cba_cx, cba_cy)], "CBA (55°N, 163°W)", 20),
    (ljo_x, ljo_y, [(ljo_cx, ljo_cy)], "LJO (33°N, 117°W)", 20),
    (mlo_x, mlo_y, [(mlo_cx1, mlo_cy1), (mlo_cx2, mlo_cy2)], "MLO (20°N, 156°W)", -60),
    (kum_x, kum_y, [(kum_cx, kum_cy)], "KUM (20°N, 155°W)", -60),
]
for i, (xs, ys, cv, lab, ly) in enumerate(left):
    ax = px_axes(103, 34 + 190 * i, 486, 190)
    station(ax, xs, ys, cv, lab, ly, top_labels=(i == 0), bottom_labels=(i == 4))

right = [
    (smo_x, smo_y, [(smo_cx, smo_cy)], "SMO (14°S, 171°W)", -60),
    (psa_x, psa_y, [(psa_cx, psa_cy)], "PSA (65°S, 64°W)", -60),
    (spo_x, spo_y, [(spo_cx1, spo_cy1), (spo_cx2, spo_cy2)], "SPO (90°S)", -60),
]
for i, (xs, ys, cv, lab, ly) in enumerate(right):
    ax = px_axes(632, 34 + 190 * i, 485, 190)
    station(ax, xs, ys, cv, lab, ly, top_labels=(i == 0), bottom_labels=(i == 2))
    if i == 2:
        ax.set_xlabel("Year", fontsize=16.5, labelpad=6)

# CGO panel
ax = px_axes(103, 1138, 486, 190)
ax.scatter(cgo_x, cgo_y, s=11, c='black', linewidths=0, zorder=3)
ax.plot(cgo_cx, cgo_cy, color='black', lw=1.1, zorder=2)
ax.text(1991.1, -270, "CGO (41°S, 145°E)", fontsize=17.3, va='center', ha='left')
style(ax, False, True, ylim=(-300, -60), ymaj=30, ymin=10, ysize=12, ypad=6)
ax.set_xlabel("Year", fontsize=16.5, labelpad=5)

# axis titles
fig.text(20 / W, 1 - 515 / H,
         r"Deseasonalized monthy $\mathsf{O_2/N_2}$ ratio averages differenced from CGO spline (per meg)",
         rotation=90, ha='center', va='center', fontsize=17.5)
fig.text(17 / W, 1 - 1235 / H, "Deseasonalized", rotation=90, ha='center', va='center', fontsize=17)
fig.text(45 / W, 1 - 1232 / H, r"$\mathsf{O_2/N_2}$ ratio at CGO (per meg)",
         rotation=90, ha='center', va='center', fontsize=17)

# caption (the page is cropped, so the last line only peeks in at the bottom)
for k, line in enumerate(caption_lines):
    fig.text(636 / W, 1 - (745 + 36.4 * k) / H, line, family='Liberation Serif',
             fontsize=22.5, ha='left', va='center')

fig.savefig("out.png", dpi=100)
